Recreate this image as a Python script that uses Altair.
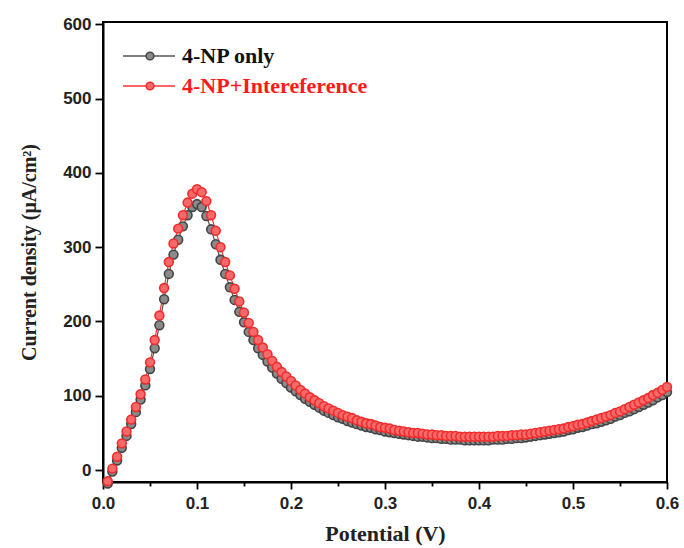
import altair as alt
import pandas as pd

# Sampling grid of the potential sweep (V)
potential = [round(0.005 * i, 3) for i in range(1, 121)]

# Current density (uA/cm^2) for 4-NP alone
np_only = [
    -18, -2, 13, 30, 46, 62, 78, 95, 114, 136, 164, 195, 230, 264, 290, 310, 328, 343, 354, 358,
    354, 342, 324, 304, 283, 264, 246, 229, 213, 199, 186, 175, 164, 155, 146, 138, 130, 123, 117, 111,
    106, 101, 96, 92, 88, 84, 80, 77, 74, 71, 69, 66, 64, 62, 60, 58, 57, 55, 54, 52,
    51, 50, 49, 48, 47, 46, 45, 45, 44, 43, 43, 42, 42, 41, 41, 41, 40, 40, 40, 40,
    40, 40, 41, 41, 41, 42, 42, 43, 43, 44, 45, 46, 47, 48, 49, 50, 51, 52, 54, 55,
    57, 58, 60, 62, 63, 65, 67, 69, 72, 74, 77, 79, 82, 85, 88, 91, 94, 98, 101, 105,
]

# Current density (uA/cm^2) for 4-NP with interfering species
np_interf = [
    -15, 2, 18, 36, 52, 68, 85, 102, 122, 145, 175, 208, 245, 280, 305, 325, 343, 360, 372, 378,
    374, 362, 343, 322, 300, 280, 262, 244, 227, 212, 198, 186, 175, 165, 156, 147, 139, 132, 126, 120,
    114, 108, 103, 98, 94, 90, 86, 83, 80, 77, 74, 72, 70, 67, 65, 63, 62, 60, 58, 57,
    56, 54, 53, 52, 51, 50, 50, 49, 48, 48, 47, 47, 46, 46, 46, 45, 45, 45, 45, 45,
    45, 45, 45, 46, 46, 46, 47, 47, 48, 48, 49, 50, 51, 52, 53, 54, 55, 56, 58, 59,
    61, 62, 64, 66, 68, 70, 72, 74, 77, 79, 82, 85, 88, 91, 94, 97, 101, 104, 108, 112,
]

series_names = ["4-NP only", "4-NP+Intereference"]
fill_colors = ["#8a8a8a", "#f86a6a"]
stroke_colors = ["#444444", "#f02c2c"]
line_colors = ["#555555", "#ff3333"]
text_colors = ["#111111", "#ff1a1a"]

x_ticks = [round(0.05 * i, 2) for i in range(13)]
y_ticks = [50 * i for i in range(13)]

rows = []
for name, ys in zip(series_names, [np_only, np_interf]):
    for x, y in zip(potential, ys):
        rows.append({"Potential": x, "Current": y, "Series": name})
df = pd.DataFrame(rows)

x_scale = alt.Scale(domain=[0, 0.6], nice=False, zero=False)
y_scale = alt.Scale(domain=[-16, 603], nice=False, zero=False)

major_x = "abs(round(datum.value*10) - datum.value*10) < 0.01"
x_axis = alt.Axis(
    values=x_ticks,
    format=".1f",
    labelExpr=f"{major_x} ? format(datum.value, '.1f') : ''",
    tickSize={"condition": {"test": major_x, "value": 7}, "value": 4},
    labelFlush=False,
    title="Potential (V)",
    titleY=51,
    titleBaseline="middle",
    labelPadding=6,
    grid=False,
)
y_axis = alt.Axis(
    values=y_ticks,
    labelExpr="datum.value % 100 == 0 ? format(datum.value, 'd') : ''",
    tickSize={"condition": {"test": "datum.value % 100 == 0", "value": 8}, "value": 5},
    labelFlush=False,
    title="Current density (μA/cm²)",
    titleX=-74,
    titleY=230,
    titleAngle=-90,
    titleAlign="center",
    titleBaseline="middle",
    titleFontSize=20,
    labelPadding=4,
    grid=False,
)

color_scale = alt.Scale(domain=series_names, range=line_colors)
fill_scale = alt.Scale(domain=series_names, range=fill_colors)
stroke_scale = alt.Scale(domain=series_names, range=stroke_colors)

base = alt.Chart(df)

lines = base.mark_line(strokeWidth=1.2).encode(
    x=alt.X("Potential:Q", scale=x_scale, axis=x_axis),
    y=alt.Y("Current:Q", scale=y_scale, axis=y_axis),
    color=alt.Color("Series:N", scale=color_scale, legend=None),
    detail="Series:N",
)

points = base.mark_point(filled=True, size=78, strokeWidth=1.6, opacity=1).encode(
    x=alt.X("Potential:Q", scale=x_scale),
    y=alt.Y("Current:Q", scale=y_scale),
    fill=alt.Fill("Series:N", scale=fill_scale, legend=None),
    stroke=alt.Stroke("Series:N", scale=stroke_scale, legend=None),
    order=alt.Order("Series:N"),
)

# Hand-drawn legend in the upper-left corner of the plot, one layer set per row
legend_layers = []
for i, name in enumerate(series_names):
    row_y = 34 + 30 * i
    row = alt.Chart(pd.DataFrame({"Series": [name]}))
    legend_layers.append(
        row.mark_rule(strokeWidth=1.5, color=line_colors[i]).encode(
            x=alt.value(20), x2=alt.value(72), y=alt.value(row_y)
        )
    )
    legend_layers.append(
        row.mark_point(
            filled=True, size=60, strokeWidth=1.5, opacity=1,
            fill=fill_colors[i], stroke=stroke_colors[i],
        ).encode(x=alt.value(47), y=alt.value(row_y))
    )
    legend_layers.append(
        row.mark_text(
            align="left", baseline="middle", font="Liberation Serif",
            fontWeight="bold", fontSize=22, color=text_colors[i],
        ).encode(x=alt.value(79), y=alt.value(row_y), text="Series:N")
    )

chart = (
    alt.layer(lines, points, *legend_layers)
    .properties(
        width=564,
        height=460,
        autosize=alt.AutoSizeParams(type="none"),
        padding={"left": 103, "top": 22, "right": 17, "bottom": 66},
        background="white",
    )
    .configure_view(stroke="black", strokeWidth=2)
    .configure_axis(
        domainColor="black",
        domainWidth=2,
        tickColor="black",
        tickWidth=1.8,
        labelFont="Liberation Sans",
        labelFontWeight="bold",
        labelFontSize=17,
        labelColor="#222222",
        titleFont="Liberation Serif",
        titleFontWeight="bold",
        titleFontSize=22,
        titleColor="#222222",
    )
)

chart.save("out.html", embed_options={"renderer": "svg", "actions": False})
